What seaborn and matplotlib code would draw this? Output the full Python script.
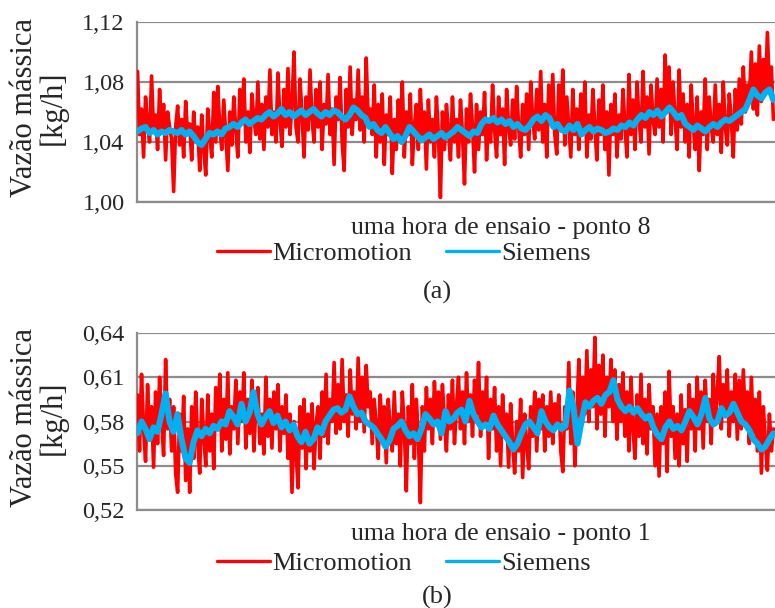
import numpy as np
import pandas as pd
import matplotlib
matplotlib.use("Agg")
import matplotlib.pyplot as plt
from matplotlib.lines import Line2D
import seaborn as sns

# Ponto 8 (painel a) - vazão mássica [kg/h], uma hora de ensaio
micromotion_p8 = [
    1.087, 1.045, 1.062, 1.030, 1.070, 1.052, 1.040, 1.084, 1.048, 1.058,
    1.035, 1.075, 1.046, 1.065, 1.028, 1.060, 1.050, 1.042, 1.007, 1.050,
    1.064, 1.038, 1.055, 1.030, 1.067, 1.045, 1.052, 1.028, 1.060, 1.040,
    1.050, 1.021, 1.058, 1.035, 1.018, 1.062, 1.045, 1.030, 1.073, 1.040,
    1.077, 1.050, 1.035, 1.068, 1.045, 1.021, 1.060, 1.038, 1.070, 1.048,
    1.030, 1.075, 1.052, 1.082, 1.040, 1.060, 1.033, 1.072, 1.055, 1.045,
    1.080, 1.042, 1.065, 1.035, 1.070, 1.050, 1.088, 1.045, 1.060, 1.040,
    1.086, 1.055, 1.037, 1.075, 1.050, 1.089, 1.045, 1.065, 1.100, 1.050,
    1.040, 1.082, 1.058, 1.030, 1.070, 1.048, 1.088, 1.055, 1.040, 1.075,
    1.050, 1.080, 1.035, 1.065, 1.052, 1.085, 1.045, 1.062, 1.025, 1.070,
    1.055, 1.083, 1.040, 1.021, 1.075, 1.050, 1.090, 1.045, 1.068, 1.055,
    1.088, 1.048, 1.070, 1.040, 1.096, 1.055, 1.062, 1.045, 1.078, 1.030,
    1.065, 1.040, 1.072, 1.025, 1.058, 1.045, 1.070, 1.019, 1.055, 1.035,
    1.068, 1.042, 1.080, 1.030, 1.060, 1.045, 1.072, 1.025, 1.050, 1.065,
    1.035, 1.075, 1.045, 1.060, 1.022, 1.068, 1.040, 1.055, 1.030, 1.070,
    1.045, 1.003, 1.060, 1.035, 1.065, 1.048, 1.028, 1.070, 1.040, 1.055,
    1.030, 1.068, 1.045, 1.012, 1.062, 1.040, 1.072, 1.050, 1.020, 1.065,
    1.035, 1.060, 1.045, 1.073, 1.028, 1.055, 1.040, 1.078, 1.048, 1.030,
    1.070, 1.045, 1.062, 1.025, 1.075, 1.050, 1.038, 1.068, 1.042, 1.077,
    1.050, 1.030, 1.065, 1.045, 1.072, 1.035, 1.080, 1.055, 1.042, 1.075,
    1.048, 1.087, 1.040, 1.065, 1.030, 1.078, 1.052, 1.085, 1.045, 1.032,
    1.078, 1.050, 1.088, 1.038, 1.070, 1.050, 1.030, 1.075, 1.045, 1.062,
    1.035, 1.072, 1.048, 1.080, 1.030, 1.058, 1.042, 1.075, 1.050, 1.028,
    1.068, 1.045, 1.078, 1.035, 1.060, 1.018, 1.065, 1.045, 1.072, 1.030,
    1.058, 1.042, 1.075, 1.050, 1.030, 1.085, 1.045, 1.068, 1.035, 1.080,
    1.055, 1.040, 1.087, 1.050, 1.070, 1.032, 1.078, 1.055, 1.045, 1.082,
    1.050, 1.075, 1.040, 1.098, 1.060, 1.090, 1.045, 1.080, 1.055, 1.035,
    1.088, 1.050, 1.072, 1.040, 1.065, 1.030, 1.078, 1.052, 1.035, 1.070,
    1.021, 1.060, 1.045, 1.082, 1.035, 1.070, 1.050, 1.040, 1.078, 1.045,
    1.065, 1.033, 1.080, 1.050, 1.038, 1.072, 1.055, 1.030, 1.075, 1.048,
    1.082, 1.052, 1.090, 1.060, 1.078, 1.068, 1.100, 1.062, 1.092, 1.058,
    1.104, 1.067, 1.095, 1.072, 1.113, 1.075, 1.090, 1.055,
]
siemens_p8 = [
    1.047, 1.049, 1.050, 1.046, 1.048, 1.045, 1.047, 1.046, 1.048, 1.047,
    1.046, 1.048, 1.045, 1.047, 1.044, 1.040, 1.038, 1.042, 1.046, 1.045,
    1.047, 1.045, 1.049, 1.050, 1.052, 1.050, 1.053, 1.055, 1.052, 1.054,
    1.056, 1.055, 1.058, 1.060, 1.057, 1.059, 1.062, 1.058, 1.060, 1.057,
    1.059, 1.061, 1.058, 1.060, 1.062, 1.059, 1.057, 1.060, 1.058, 1.061,
    1.060, 1.057, 1.055, 1.058, 1.063, 1.061, 1.058, 1.056, 1.050, 1.052,
    1.048, 1.046, 1.050, 1.046, 1.042, 1.044, 1.040, 1.044, 1.050, 1.047,
    1.044, 1.041, 1.043, 1.045, 1.042, 1.044, 1.046, 1.043, 1.045, 1.047,
    1.050, 1.048, 1.046, 1.044, 1.047, 1.046, 1.052, 1.055, 1.054, 1.056,
    1.053, 1.055, 1.052, 1.054, 1.050, 1.052, 1.049, 1.048, 1.051, 1.055,
    1.057, 1.054, 1.058, 1.056, 1.050, 1.052, 1.048, 1.047, 1.051, 1.048,
    1.052, 1.045, 1.048, 1.050, 1.047, 1.049, 1.048, 1.046, 1.047, 1.049,
    1.048, 1.051, 1.050, 1.053, 1.051, 1.055, 1.058, 1.056, 1.060, 1.058,
    1.061, 1.057, 1.060, 1.063, 1.060, 1.056, 1.058, 1.052, 1.050, 1.048,
    1.051, 1.049, 1.047, 1.050, 1.052, 1.050, 1.053, 1.055, 1.054, 1.056,
    1.058, 1.060, 1.062, 1.068, 1.075, 1.071, 1.069, 1.073, 1.075, 1.068,
]

# Ponto 1 (painel b) - vazão mássica [kg/h], uma hora de ensaio
micromotion_p1 = [
    0.598, 0.560, 0.612, 0.575, 0.553, 0.605, 0.570, 0.590, 0.549, 0.600,
    0.565, 0.610, 0.580, 0.557, 0.622, 0.575, 0.595, 0.560, 0.590, 0.545,
    0.532, 0.585, 0.560, 0.597, 0.540, 0.575, 0.532, 0.590, 0.555, 0.600,
    0.565, 0.545, 0.595, 0.570, 0.550, 0.598, 0.560, 0.585, 0.548, 0.603,
    0.575, 0.612, 0.560, 0.595, 0.568, 0.613, 0.558, 0.590, 0.575, 0.608,
    0.565, 0.600, 0.580, 0.613, 0.562, 0.595, 0.572, 0.608, 0.560, 0.590,
    0.603, 0.565, 0.585, 0.558, 0.610, 0.570, 0.595, 0.562, 0.600, 0.575,
    0.605, 0.560, 0.590, 0.572, 0.598, 0.555, 0.585, 0.532, 0.580, 0.560,
    0.535, 0.590, 0.562, 0.595, 0.548, 0.585, 0.560, 0.592, 0.548, 0.578,
    0.590, 0.555, 0.600, 0.570, 0.612, 0.565, 0.595, 0.580, 0.620, 0.572,
    0.605, 0.575, 0.622, 0.580, 0.598, 0.570, 0.615, 0.585, 0.600, 0.575,
    0.623, 0.580, 0.610, 0.573, 0.618, 0.590, 0.600, 0.565, 0.595, 0.578,
    0.555, 0.598, 0.570, 0.590, 0.552, 0.595, 0.575, 0.560, 0.600, 0.565,
    0.585, 0.550, 0.600, 0.575, 0.533, 0.590, 0.565, 0.605, 0.555, 0.595,
    0.570, 0.525, 0.590, 0.560, 0.603, 0.575, 0.595, 0.565, 0.607, 0.580,
    0.600, 0.568, 0.605, 0.580, 0.560, 0.598, 0.575, 0.608, 0.565, 0.590,
    0.610, 0.575, 0.600, 0.565, 0.613, 0.580, 0.598, 0.570, 0.608, 0.585,
    0.620, 0.570, 0.600, 0.580, 0.610, 0.555, 0.595, 0.575, 0.603, 0.560,
    0.590, 0.550, 0.598, 0.570, 0.585, 0.549, 0.592, 0.565, 0.545, 0.580,
    0.560, 0.595, 0.542, 0.585, 0.565, 0.548, 0.590, 0.570, 0.600, 0.560,
    0.595, 0.575, 0.598, 0.560, 0.590, 0.570, 0.600, 0.565, 0.592, 0.578,
    0.598, 0.560, 0.546, 0.590, 0.575, 0.620, 0.565, 0.600, 0.550, 0.585,
    0.622, 0.575, 0.610, 0.585, 0.628, 0.580, 0.615, 0.590, 0.637, 0.575,
    0.618, 0.585, 0.625, 0.570, 0.610, 0.590, 0.622, 0.580, 0.615, 0.568,
    0.605, 0.580, 0.613, 0.570, 0.600, 0.560, 0.610, 0.575, 0.555, 0.598,
    0.570, 0.612, 0.565, 0.595, 0.558, 0.605, 0.575, 0.590, 0.550, 0.585,
    0.543, 0.590, 0.565, 0.600, 0.546, 0.614, 0.570, 0.590, 0.555, 0.585,
    0.550, 0.598, 0.565, 0.588, 0.553, 0.605, 0.575, 0.595, 0.560, 0.610,
    0.575, 0.600, 0.562, 0.608, 0.580, 0.595, 0.565, 0.612, 0.578, 0.600,
    0.624, 0.575, 0.605, 0.585, 0.615, 0.570, 0.600, 0.580, 0.612, 0.568,
    0.608, 0.575, 0.615, 0.580, 0.600, 0.565, 0.610, 0.572, 0.595, 0.560,
    0.600, 0.545, 0.590, 0.565, 0.547, 0.585, 0.560, 0.575,
]
siemens_p1 = [
    0.572, 0.580, 0.575, 0.568, 0.576, 0.573, 0.585, 0.599, 0.580, 0.573,
    0.585, 0.568, 0.555, 0.552, 0.566, 0.574, 0.570, 0.575, 0.572, 0.577,
    0.575, 0.580, 0.578, 0.587, 0.583, 0.578, 0.592, 0.580, 0.586, 0.600,
    0.585, 0.578, 0.583, 0.587, 0.579, 0.584, 0.576, 0.580, 0.574, 0.578,
    0.570, 0.566, 0.573, 0.565, 0.568, 0.576, 0.572, 0.580, 0.584, 0.588,
    0.589, 0.586, 0.588, 0.597, 0.590, 0.585, 0.586, 0.580, 0.578, 0.576,
    0.572, 0.568, 0.563, 0.567, 0.575, 0.577, 0.580, 0.574, 0.570, 0.572,
    0.568, 0.575, 0.585, 0.582, 0.578, 0.580, 0.572, 0.587, 0.580, 0.582,
    0.586, 0.588, 0.580, 0.594, 0.585, 0.580, 0.576, 0.578, 0.575, 0.584,
    0.578, 0.574, 0.570, 0.566, 0.561, 0.565, 0.572, 0.578, 0.580, 0.576,
    0.572, 0.587, 0.580, 0.576, 0.574, 0.578, 0.575, 0.577, 0.601, 0.590,
    0.565, 0.580, 0.593, 0.590, 0.594, 0.596, 0.592, 0.598, 0.600, 0.608,
    0.595, 0.590, 0.587, 0.590, 0.586, 0.589, 0.585, 0.582, 0.584, 0.576,
    0.571, 0.568, 0.576, 0.580, 0.575, 0.577, 0.574, 0.580, 0.587, 0.583,
    0.578, 0.585, 0.596, 0.582, 0.578, 0.580, 0.589, 0.584, 0.586, 0.592,
    0.586, 0.580, 0.578, 0.574, 0.568, 0.565, 0.561, 0.563, 0.568, 0.572,
]

yticks_a = [1.00, 1.04, 1.08, 1.12]
yticks_b = [0.52, 0.55, 0.58, 0.61, 0.64]
xlabel_a = "uma hora de ensaio - ponto 8"
xlabel_b = "uma hora de ensaio - ponto 1"
ylabel_lines = ["Vazão mássica", "[kg/h]"]
series_names = ["Micromotion", "Siemens"]
panel_tags = ["(a)", "(b)"]

RED = "#FF0000"
BLUE = "#00B0F0"
GRID = "#8C8C8C"

sns.set_style("white")
plt.rcParams["font.family"] = ["Liberation Serif", "DejaVu Serif"]

W, H = 775, 608
fig = plt.figure(figsize=(W / 100, H / 100), dpi=100)


def fx(px):
    return px / W


def fy(py):
    return 1 - py / H


def panel(top_px, bot_px, red, blue, yticks, xlabel_txt, y_xlabel, y_legend, tag, y_tag):
    ax = fig.add_axes([fx(137), fy(bot_px), 1 - fx(137), (bot_px - top_px) / H])
    df_r = pd.DataFrame({"t": np.linspace(0, 60, len(red)), "v": red})
    df_b = pd.DataFrame({"t": np.linspace(0, 60, len(blue)), "v": blue})
    sns.lineplot(data=df_r, x="t", y="v", ax=ax, color=RED, lw=2.6, zorder=3)
    sns.lineplot(data=df_b, x="t", y="v", ax=ax, color=BLUE, lw=4.4,
                 solid_joinstyle="round", solid_capstyle="round", zorder=4)
    ax.set_xlim(-0.05, 60.15)
    ax.set_ylim(yticks[0], yticks[-1])
    ax.set_yticks(yticks)
    ax.set_yticklabels([f"{v:.2f}".replace(".", ",") for v in yticks])
    ax.set_xticks([])
    ax.set_xlabel("")
    ax.set_ylabel("")
    ax.tick_params(axis="y", labelsize=17.5, length=5, width=1.4, color=GRID,
                   direction="out", pad=4)
    ax.grid(axis="y", color=GRID, lw=1.6, zorder=0)
    for s in ["top", "right"]:
        ax.spines[s].set_visible(False)
    for s in ["left", "bottom"]:
        ax.spines[s].set_color(GRID)
        ax.spines[s].set_linewidth(1.6)
    ax.patch.set_alpha(0)

    yc = (top_px + bot_px) / 2 - 4
    fig.text(fx(25), fy(yc), ylabel_lines[0], rotation=90, ha="center", va="center",
             fontsize=22)
    fig.text(fx(53), fy(yc), ylabel_lines[1], rotation=90, ha="center", va="center",
             fontsize=22)

    fig.text(fx(501), fy(y_xlabel), xlabel_txt, ha="center", va="center", fontsize=18.5)
    handles = [Line2D([], [], color=RED, lw=2.4), Line2D([], [], color=BLUE, lw=2.4)]
    fig.legend(handles, series_names, loc="center", bbox_to_anchor=(fx(404), fy(y_legend)),
               ncol=2, frameon=False, fontsize=19, handlelength=2.0, handletextpad=0.1,
               columnspacing=1.3, borderpad=0, borderaxespad=0)
    fig.text(fx(437), fy(y_tag), tag, ha="center", va="center", fontsize=19)
    return ax


panel(22, 202, micromotion_p8, siemens_p8, yticks_a, xlabel_a, 228, 253, panel_tags[0], 292)
panel(333, 510, micromotion_p1, siemens_p1, yticks_b, xlabel_b, 534, 563, panel_tags[1], 597)

fig.savefig("out.png", dpi=100)
